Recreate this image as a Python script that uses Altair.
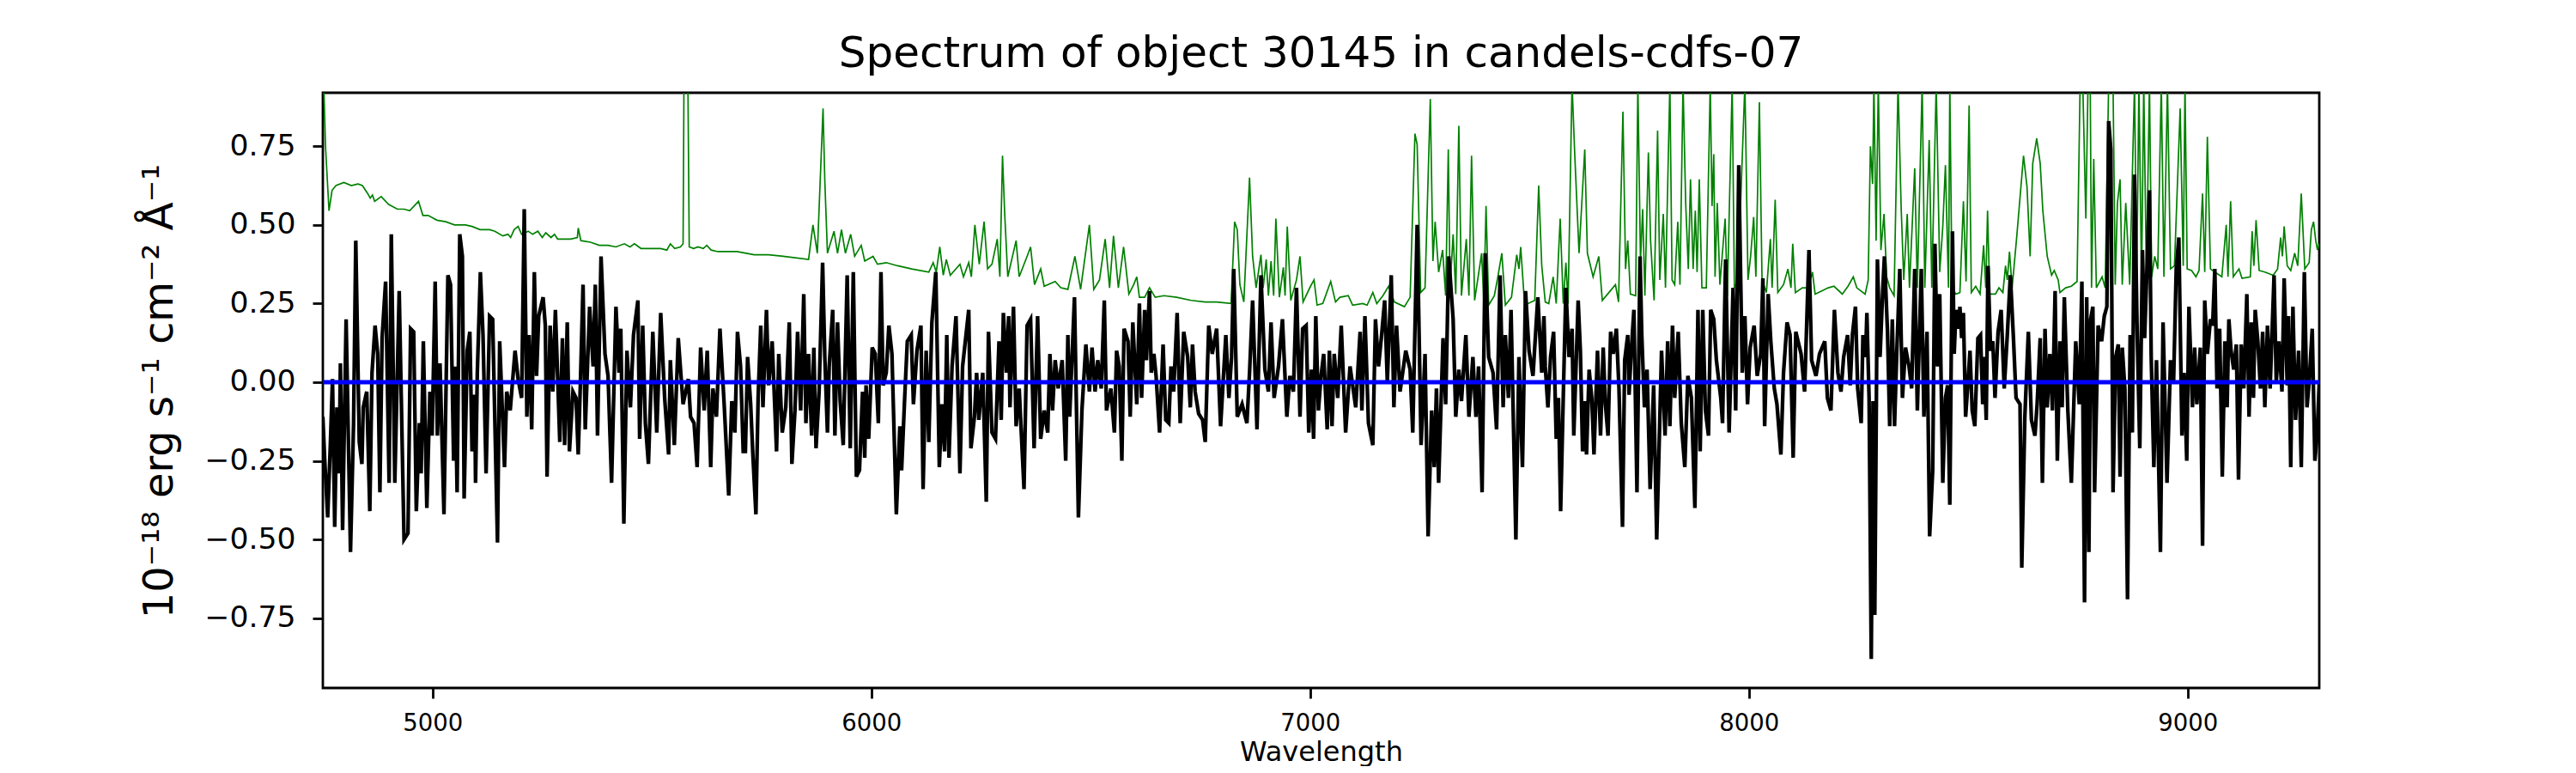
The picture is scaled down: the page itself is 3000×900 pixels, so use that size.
import altair as alt
import pandas as pd

# ---------------- data ----------------
flux_wave = [
    4750, 4754, 4761, 4767, 4772, 4777, 4782, 4787, 4790, 4795, 4803, 4813, 4820, 4825, 4833, 4839, 4842, 4850, 4857, 4862,
    4869, 4875, 4880, 4885, 4893, 4901, 4906, 4914, 4924, 4935, 4944, 4950, 4957, 4963, 4970, 4974, 4979, 4987, 4994, 4999,
    5006, 5011, 5017, 5026, 5035, 5041, 5048, 5051, 5056, 5062, 5068, 5072, 5079, 5085, 5090, 5096, 5098, 5102, 5109, 5115,
    5122, 5130, 5137, 5148, 5153, 5164, 5169, 5177, 5188, 5195, 5203, 5209, 5215, 5220, 5226, 5232, 5237, 5242, 5252, 5257,
    5261, 5268, 5274, 5280, 5290, 5296, 5301, 5307, 5312, 5320, 5327, 5332, 5337, 5343, 5348, 5358, 5366, 5371, 5376, 5384,
    5393, 5400, 5408, 5418, 5425, 5429, 5436, 5443, 5451, 5458, 5468, 5472, 5479, 5485, 5492, 5502, 5511, 5520, 5529, 5538,
    5542, 5551, 5560, 5571, 5583, 5588, 5596, 5603, 5611, 5619, 5626, 5634, 5639, 5647, 5655, 5665, 5675,
    5682, 5689, 5695, 5702, 5708, 5713, 5718, 5725, 5730, 5737, 5742, 5748, 5753, 5761, 5766, 5774, 5784, 5789, 5797, 5805,
    5813, 5819, 5826, 5832, 5839, 5846, 5851, 5857, 5864, 5869, 5874, 5881, 5889, 5894, 5900, 5904, 5912, 5917, 5923, 5929,
    5936, 5945, 5952, 5959, 5966, 5973, 5980, 5985, 5988, 5994, 6002, 6009, 6016, 6022, 6027, 6034, 6040, 6047, 6057, 6065,
    6069, 6076, 6082, 6091, 6096, 6104, 6113, 6118, 6125, 6131, 6138, 6147, 6155, 6161, 6167, 6172, 6177, 6184, 6193, 6202,
    6208, 6222, 6227, 6235, 6240, 6245, 6254, 6262, 6267, 6275, 6283, 6291, 6296, 6301, 6308, 6313, 6316, 6324, 6330, 6337,
    6348, 6355, 6363, 6371, 6379, 6386, 6394, 6402, 6407, 6413, 6419, 6426, 6435, 6443, 6448, 6452, 6463, 6472, 6480, 6489,
    6497, 6503, 6510, 6516, 6524, 6531, 6536, 6546, 6554, 6559, 6565, 6571, 6576, 6585, 6590, 6596, 6605,
    6611, 6616, 6623, 6627, 6634, 6638, 6644, 6649, 6657, 6665, 6671, 6678, 6683, 6689, 6697, 6704, 6712, 6721, 6727, 6732,
    6738, 6746, 6755, 6761, 6769, 6777, 6787, 6796, 6808, 6815, 6821, 6826, 6834, 6845, 6856, 6862, 6869, 6879, 6888, 6897,
    6905, 6911, 6918, 6928, 6937, 6947, 6954, 6962, 6969, 6977, 6983, 6991, 6997, 7003, 7008, 7013, 7019, 7025, 7031, 7039,
    7044, 7050, 7055, 7063, 7071, 7081, 7091, 7104, 7114, 7118, 7125, 7133, 7143, 7149, 7156, 7163, 7170, 7176, 7185, 7191,
    7197, 7205, 7218, 7228, 7234, 7244, 7253, 7262, 7269, 7277, 7283, 7288, 7293, 7303, 7309, 7316, 7326, 7332, 7339, 7345,
    7355, 7362, 7371, 7378, 7384, 7392, 7399, 7407, 7417, 7425, 7433, 7440, 7445, 7452, 7458, 7469, 7476, 7484, 7491, 7499,
    7508, 7519, 7528,
    7533, 7536, 7542, 7548, 7555, 7561, 7566, 7571, 7577, 7583, 7590, 7597, 7601, 7611, 7616, 7621, 7626, 7630, 7636, 7642,
    7647, 7655, 7662, 7668, 7673, 7679, 7685, 7691, 7698, 7704, 7712, 7717, 7724, 7727, 7732, 7738, 7745, 7752, 7756, 7762,
    7768, 7775, 7783, 7790, 7801, 7809, 7815, 7820, 7826, 7831, 7839, 7846, 7854, 7861, 7869, 7877, 7884, 7889, 7895, 7901,
    7908, 7913, 7920, 7926, 7936, 7940, 7947, 7955, 7964, 7970, 7977, 7985, 7991, 7997, 8003, 8012, 8019, 8027, 8032, 8036,
    8044, 8050, 8058, 8064, 8073, 8079, 8087, 8094, 8101, 8107, 8119, 8127, 8137, 8143, 8153, 8161, 8173, 8179, 8187, 8195,
    8203, 8210, 8216, 8225, 8231, 8236, 8243, 8248, 8256, 8260, 8266, 8269, 8274, 8279, 8283, 8287, 8293, 8299, 8305, 8309,
    8316, 8321, 8327, 8332, 8337, 8344, 8350, 8357, 8365, 8371, 8378, 8384, 8393, 8399, 8406, 8412, 8419, 8424, 8430, 8435,
    8442, 8448, 8453, 8458, 8464,
    8468, 8472, 8478, 8481, 8485, 8489, 8494, 8498, 8504, 8509, 8515, 8522, 8528, 8533, 8536, 8541, 8545, 8551, 8556, 8561,
    8568, 8575, 8582, 8589, 8596, 8603, 8609, 8618, 8622, 8629, 8637, 8644, 8652, 8657, 8664, 8669, 8675, 8680, 8686, 8692,
    8698, 8703, 8709, 8714, 8719, 8727, 8735, 8745, 8753, 8759, 8765, 8770, 8775, 8779, 8784, 8788, 8796, 8804, 8810, 8816,
    8820, 8825, 8830, 8836, 8842, 8846, 8851, 8857, 8863, 8869, 8874, 8879, 8885, 8891, 8897, 8902, 8908, 8913, 8917, 8923,
    8929, 8938, 8944, 8953, 8961, 8968, 8974, 8980, 8987, 8992, 8998, 9003, 9011, 9016, 9021, 9029, 9034, 9039, 9045, 9052,
    9057, 9062, 9067, 9073, 9079, 9085, 9090, 9094, 9099, 9105, 9111, 9116, 9122, 9128, 9135, 9140, 9145, 9150, 9154, 9160,
    9166, 9171, 9176, 9182, 9188, 9197, 9202, 9208, 9215, 9220, 9227, 9230, 9235, 9240, 9246, 9253, 9259, 9266, 9272, 9277,
    9284, 9290, 9295, 9300,
]
flux = [
    -0.11, -0.24, -0.43, -0.20, 0.01, -0.46, -0.08, -0.29, 0.06, -0.47, 0.20, -0.54, -0.13, 0.45, -0.19, -0.26, -0.08, -0.03, -0.41, 0.03,
    0.18, 0.09, -0.35, 0.14, 0.32, -0.32, 0.47, -0.32, 0.29, -0.50, -0.48, 0.17, 0.16, -0.41, -0.13, -0.29, 0.13, -0.40, -0.03, -0.17,
    0.32, -0.17, 0.06, -0.42, 0.34, 0.31, -0.25, 0.05, -0.35, 0.47, 0.40, -0.37, 0.10, 0.16, -0.22, -0.04, -0.32, 0.03, 0.35, 0.15,
    -0.29, 0.21, 0.20, -0.51, 0.13, -0.27, -0.03, -0.09, 0.10, 0.01, -0.05, 0.55, -0.11, 0.15, -0.15, 0.35, 0.02, 0.21, 0.27, 0.18,
    -0.30, 0.18, -0.03, 0.23, -0.19, 0.14, -0.20, 0.19, -0.22, -0.03, -0.05, -0.23, 0.00, 0.31, -0.15, 0.24, 0.05, 0.31, -0.17, 0.40,
    0.09, 0.02, -0.32, 0.24, 0.03, 0.17, -0.45, 0.10, -0.08, 0.15, 0.26, -0.18, 0.18, -0.13, -0.26, 0.16, -0.16, 0.22, -0.05, -0.23,
    0.07, -0.20, 0.14, -0.07, 0.01, -0.11, -0.13, -0.27, 0.11, -0.09, 0.10, -0.27, -0.02, -0.11, 0.17, -0.08, -0.36,
    -0.06, -0.16, 0.16, 0.05, -0.22, -0.22, 0.08, -0.07, -0.23, -0.42, -0.05, 0.18, -0.08, 0.23, -0.01, 0.13, -0.22, 0.09, -0.16, -0.08,
    0.19, -0.26, -0.09, 0.16, -0.09, 0.28, -0.13, 0.09, -0.17, 0.11, -0.21, -0.03, 0.38, 0.08, -0.16, 0.05, 0.23, -0.17, 0.19, -0.06,
    -0.20, 0.34, -0.21, 0.35, -0.30, -0.28, -0.03, -0.24, -0.01, -0.18, 0.11, 0.09, -0.13, 0.35, -0.01, 0.03, 0.18, 0.09, -0.42, -0.14,
    -0.28, -0.05, 0.13, 0.15, -0.07, 0.10, 0.18, -0.34, 0.10, -0.19, 0.19, 0.35, -0.27, -0.07, -0.22, 0.15, -0.24, 0.05, 0.21, -0.29,
    0.05, 0.23, -0.21, -0.11, 0.03, -0.12, 0.03, -0.38, 0.16, -0.16, -0.18, 0.13, -0.12, 0.22, 0.03, 0.21, -0.08, 0.24, -0.14, -0.02,
    -0.34, 0.18, 0.20, -0.21, 0.21, -0.18, -0.09, -0.16, 0.09, -0.09, 0.07, -0.02, 0.07, -0.25, 0.15, -0.11, 0.27, -0.43, -0.09, 0.12,
    -0.03, 0.11, -0.03, 0.07, -0.02, 0.26, -0.09, -0.02, -0.16, 0.10, 0.05, -0.25, 0.17, 0.13, -0.11, 0.19, -0.07,
    0.25, -0.05, 0.23, 0.07, 0.29, 0.03, 0.09, 0.02, -0.16, 0.12, -0.12, -0.13, 0.05, -0.03, 0.22, -0.13, 0.16, 0.08, -0.08, 0.12,
    -0.03, -0.10, -0.12, -0.19, 0.18, 0.09, 0.17, -0.14, 0.15, -0.05, 0.08, 0.36, -0.11, -0.07, -0.13, 0.03, 0.26, -0.15, 0.34, 0.04,
    -0.03, 0.19, -0.05, 0.05, 0.20, -0.11, 0.02, -0.03, 0.30, -0.11, 0.17, 0.18, -0.16, 0.04, -0.18, 0.21, -0.09, 0.02, 0.09, -0.15,
    0.10, -0.14, 0.09, -0.05, 0.18, -0.16, 0.05, -0.08, 0.16, -0.09, 0.21, -0.13, -0.20, 0.20, 0.05, 0.15, 0.26, 0.00, 0.34, -0.08,
    0.18, -0.03, 0.10, 0.04, -0.16, 0.50, -0.20, 0.09, -0.49, -0.09, -0.27, -0.02, -0.32, 0.14, -0.07, 0.40, 0.20, -0.11, 0.04, -0.06,
    0.15, -0.11, 0.08, -0.11, 0.05, -0.35, 0.41, 0.08, 0.03, -0.15, 0.34, -0.08, 0.15, -0.05, 0.23, -0.50, 0.08, -0.27, 0.29, 0.10,
    0.02, 0.27, 0.03,
    0.21, 0.05, -0.08, 0.08, 0.16, -0.18, -0.05, -0.41, -0.05, 0.30, 0.08, 0.17, -0.17, 0.26, 0.10, -0.22, -0.06, -0.23, 0.04, -0.05,
    -0.23, 0.10, -0.17, 0.11, -0.07, -0.17, 0.16, 0.09, 0.17, -0.02, -0.46, 0.07, 0.15, -0.04, 0.10, 0.23, -0.35, 0.40, 0.15, -0.08,
    0.04, -0.34, -0.01, -0.50, 0.10, -0.17, 0.13, -0.14, 0.18, -0.05, 0.16, -0.13, -0.27, 0.02, -0.05, -0.40, 0.23, -0.22, 0.23, -0.09,
    -0.17, 0.23, 0.20, 0.07, -0.05, -0.13, 0.39, -0.16, 0.30, -0.09, 0.69, 0.03, 0.21, -0.07, 0.11, 0.18, 0.02, 0.09, 0.33, -0.14,
    0.28, 0.13, -0.02, -0.07, -0.23, 0.03, 0.19, 0.15, -0.24, 0.16, 0.09, -0.03, 0.42, 0.07, 0.02, 0.09, 0.13, -0.05, -0.09, 0.23,
    0.03, -0.03, 0.08, 0.15, -0.01, 0.15, 0.24, -0.02, -0.13, 0.15, 0.08, 0.22, -0.05, -0.88, -0.06, -0.74, 0.39, 0.08, 0.29, 0.40,
    0.16, -0.14, 0.20, -0.14, 0.09, 0.36, -0.05, 0.11, 0.05, -0.02, 0.36, -0.09, 0.36, -0.11, 0.16, -0.49, -0.28, 0.44, 0.05, 0.28,
    -0.32, -0.05, -0.01, -0.39, 0.48,
    0.09, 0.23, 0.17, 0.24, 0.14, 0.22, -0.11, -0.03, 0.10, -0.09, -0.14, 0.14, 0.15, -0.07, 0.08, -0.12, 0.37, 0.10, 0.13, -0.05,
    0.16, 0.23, -0.02, 0.15, 0.34, 0.14, -0.05, -0.07, -0.59, -0.11, 0.16, -0.12, -0.17, -0.07, 0.14, -0.32, 0.17, -0.08, 0.09, -0.09,
    0.29, -0.25, 0.13, -0.08, 0.27, -0.09, -0.32, 0.13, -0.07, 0.32, -0.70, 0.27, -0.54, 0.20, 0.24, -0.35, 0.18, 0.13, 0.21, 0.24,
    0.83, 0.74, -0.35, 0.08, 0.12, -0.30, 0.11, -0.02, -0.69, 0.15, -0.16, 0.66, 0.16, -0.21, 0.42, 0.14, 0.39, 0.61, 0.08, -0.27,
    0.07, -0.54, 0.19, -0.32, 0.07, 0.00, 0.36, 0.46, -0.17, 0.03, -0.25, 0.24, -0.08, 0.11, -0.07, 0.11, -0.52, 0.26, 0.09, 0.20,
    0.18, 0.36, -0.02, 0.17, -0.30, 0.13, -0.08, 0.20, 0.10, 0.04, 0.12, -0.31, 0.12, -0.02, 0.28, -0.11, 0.19, -0.05, 0.23, 0.13,
    -0.02, 0.16, -0.08, 0.18, -0.02, 0.34, 0.00, 0.13, -0.03, 0.33, -0.01, 0.21, -0.27, 0.24, -0.12, 0.10, -0.27, 0.35, -0.08, 0.00,
    0.17, -0.25, -0.17, 0.00,
]

noise_wave = [
    4750, 4752, 4756, 4764, 4771, 4780, 4798, 4815, 4830, 4840, 4852, 4858, 4863, 4868, 4883, 4900, 4920, 4935, 4948, 4968,
    4978, 4990, 5010, 5030, 5050, 5075, 5090, 5108, 5130, 5142, 5160, 5172, 5178, 5186, 5195, 5203, 5218, 5228, 5240, 5250,
    5258, 5270, 5278, 5285, 5300, 5315, 5330, 5332, 5338, 5360, 5380, 5400, 5418, 5437, 5450, 5460, 5475, 5500, 5520, 5534,
    5542, 5552, 5565, 5571, 5573, 5582, 5585, 5595, 5605, 5617, 5625, 5635, 5650, 5666,
    5694, 5733, 5766, 5799, 5857, 5867, 5877, 5890, 5894, 5900, 5915, 5923, 5932, 5941, 5953, 5962, 5977, 5985, 6004, 6014,
    6034, 6060, 6092, 6131, 6141, 6148, 6156, 6164, 6171, 6180, 6202, 6210, 6222, 6228, 6236, 6246, 6257, 6265, 6275, 6287,
    6293, 6299, 6304, 6311, 6330, 6337, 6355, 6363, 6372, 6386, 6394, 6419, 6432, 6448, 6464, 6477, 6497, 6507, 6520, 6533,
    6543, 6552, 6563, 6575, 6587, 6598,
    6605, 6611, 6623, 6634, 6647, 6667, 6696, 6729, 6761, 6787, 6820, 6828, 6834, 6840, 6849, 6862, 6869, 6877, 6888, 6893,
    6900, 6905, 6911, 6917, 6922, 6930, 6939, 6943, 6948, 6956, 6969, 6977, 6984, 7001, 7009, 7016, 7029, 7047, 7058, 7068,
    7087, 7097, 7120, 7130, 7143, 7152, 7166, 7179, 7192, 7215, 7228, 7239, 7244, 7252, 7262, 7274, 7280, 7285, 7293, 7302,
    7309, 7315, 7319, 7326, 7332, 7339, 7345, 7356, 7362, 7368, 7375, 7391, 7396, 7401, 7407, 7420, 7428, 7437, 7445, 7459,
    7471, 7476, 7480, 7489, 7512, 7521,
    7528, 7536, 7544, 7554, 7561, 7570, 7577, 7583, 7588, 7597, 7603, 7613, 7626, 7632, 7645, 7652, 7658, 7666, 7681, 7696,
    7703, 7713, 7719, 7724, 7730, 7742, 7747, 7753, 7758, 7763, 7771, 7776, 7784, 7792, 7797, 7805, 7810, 7820, 7825, 7831,
    7838, 7843, 7850, 7856, 7862, 7867, 7873, 7878, 7882, 7887, 7893, 7903, 7912, 7916, 7920, 7923, 7928, 7934, 7946, 7951,
    7962, 7967, 7975, 7991, 7998, 8004, 8011, 8016, 8024, 8030, 8040, 8049, 8053, 8060, 8066, 8079, 8089, 8096, 8100, 8106,
    8122, 8135, 8145, 8151, 8181, 8194, 8213, 8226, 8238, 8246, 8265, 8272, 8277, 8282, 8285, 8290, 8295, 8301, 8308, 8314,
    8321, 8331, 8340, 8347, 8353, 8361, 8366, 8378, 8384, 8395, 8401, 8411, 8417, 8427, 8435, 8442, 8448, 8455,
    8458, 8463, 8472, 8481, 8489, 8495, 8502, 8507, 8517, 8527, 8535, 8540, 8544, 8549, 8562, 8570, 8579, 8585, 8589, 8594,
    8600, 8611, 8626, 8634, 8641, 8647, 8656, 8664, 8670, 8680, 8690, 8696, 8705, 8709, 8722, 8735, 8748, 8755, 8761, 8768,
    8773, 8778, 8781, 8786, 8792, 8805, 8812, 8820, 8825, 8830, 8835, 8840, 8846, 8851, 8859, 8868, 8879, 8884, 8889, 8895,
    8900, 8906, 8913, 8918, 8925, 8932, 8940, 8946, 8954, 8961, 8970, 8983, 8990, 8994, 8999, 9009, 9019, 9026, 9034, 9039,
    9045, 9052, 9062, 9078, 9088, 9092, 9098, 9104, 9117, 9124, 9143, 9147, 9151, 9156, 9163, 9176, 9195, 9205, 9212, 9216,
    9220, 9227, 9235, 9244, 9251, 9259, 9267, 9277, 9282, 9287, 9292, 9296, 9300,
]
noise = [
    0.95, 0.95, 0.75, 0.545, 0.61, 0.625, 0.635, 0.625, 0.63, 0.625, 0.60, 0.585, 0.595, 0.575, 0.59, 0.565, 0.55, 0.55, 0.545, 0.575,
    0.53, 0.53, 0.515, 0.51, 0.50, 0.50, 0.495, 0.485, 0.485, 0.48, 0.465, 0.47, 0.46, 0.485, 0.495, 0.47, 0.48, 0.47, 0.48, 0.46,
    0.475, 0.46, 0.47, 0.455, 0.455, 0.455, 0.46, 0.49, 0.45, 0.445, 0.435, 0.435, 0.43, 0.44, 0.43, 0.44, 0.425, 0.425, 0.425, 0.42,
    0.44, 0.425, 0.43, 0.44, 0.95, 0.95, 0.43, 0.425, 0.43, 0.425, 0.435, 0.42, 0.415, 0.415,
    0.415, 0.405, 0.405, 0.40, 0.39, 0.50, 0.41, 0.87, 0.64, 0.41, 0.48, 0.41, 0.485, 0.41, 0.47, 0.40, 0.435, 0.385, 0.40, 0.375,
    0.38, 0.37, 0.36, 0.35, 0.38, 0.35, 0.43, 0.34, 0.39, 0.34, 0.375, 0.335, 0.38, 0.335, 0.50, 0.375, 0.51, 0.36, 0.375, 0.455,
    0.335, 0.72, 0.535, 0.335, 0.45, 0.335, 0.40, 0.43, 0.31, 0.36, 0.305, 0.32, 0.30, 0.295, 0.40, 0.295, 0.50, 0.295, 0.325, 0.455,
    0.30, 0.465, 0.30, 0.43, 0.28, 0.31,
    0.335, 0.27, 0.27, 0.30, 0.27, 0.275, 0.27, 0.26, 0.255, 0.255, 0.25, 0.51, 0.485, 0.31, 0.255, 0.65, 0.40, 0.30, 0.405, 0.30,
    0.39, 0.275, 0.385, 0.275, 0.52, 0.27, 0.365, 0.275, 0.495, 0.26, 0.325, 0.40, 0.255, 0.305, 0.325, 0.245, 0.25, 0.32, 0.255, 0.27,
    0.275, 0.245, 0.25, 0.245, 0.285, 0.25, 0.275, 0.305, 0.255, 0.24, 0.27, 0.79, 0.755, 0.285, 0.30, 0.90, 0.385, 0.51, 0.35, 0.42,
    0.275, 0.74, 0.30, 0.47, 0.28, 0.815, 0.275, 0.455, 0.275, 0.72, 0.26, 0.41, 0.25, 0.56, 0.245, 0.275, 0.335, 0.41, 0.245, 0.27,
    0.405, 0.36, 0.43, 0.245, 0.26, 0.625,
    0.37, 0.255, 0.25, 0.335, 0.25, 0.52, 0.25, 0.38, 0.25, 0.95, 0.73, 0.41, 0.74, 0.41, 0.335, 0.37, 0.40, 0.26, 0.285, 0.31,
    0.255, 0.86, 0.36, 0.45, 0.28, 0.275, 0.95, 0.385, 0.55, 0.275, 0.73, 0.45, 0.26, 0.80, 0.325, 0.535, 0.30, 0.95, 0.325, 0.31,
    0.51, 0.31, 0.95, 0.57, 0.36, 0.645, 0.36, 0.545, 0.35, 0.645, 0.30, 0.30, 0.95, 0.56, 0.725, 0.335, 0.57, 0.31, 0.52, 0.275,
    0.95, 0.30, 0.325, 0.95, 0.325, 0.40, 0.525, 0.335, 0.89, 0.325, 0.285, 0.455, 0.30, 0.58, 0.285, 0.31, 0.36, 0.30, 0.44, 0.285,
    0.30, 0.30, 0.35, 0.28, 0.30, 0.305, 0.28, 0.305, 0.335, 0.30, 0.28, 0.325, 0.75, 0.63, 0.95, 0.45, 0.95, 0.42, 0.535, 0.335,
    0.30, 0.275, 0.95, 0.56, 0.325, 0.535, 0.30, 0.68, 0.30, 0.95, 0.30, 0.77, 0.30, 0.95, 0.35, 0.495, 0.69, 0.30,
    0.95, 0.30, 0.28, 0.285, 0.575, 0.32, 0.88, 0.285, 0.305, 0.28, 0.435, 0.30, 0.545, 0.28, 0.28, 0.30, 0.285, 0.37, 0.325, 0.415,
    0.30, 0.47, 0.72, 0.62, 0.40, 0.695, 0.775, 0.695, 0.545, 0.40, 0.34, 0.355, 0.325, 0.285, 0.30, 0.305, 0.32, 0.95, 0.95, 0.52,
    0.95, 0.95, 0.30, 0.71, 0.30, 0.335, 0.30, 0.95, 0.95, 0.95, 0.31, 0.57, 0.645, 0.31, 0.57, 0.31, 0.95, 0.325, 0.95, 0.32,
    0.95, 0.335, 0.95, 0.335, 0.40, 0.36, 0.95, 0.335, 0.95, 0.36, 0.37, 0.87, 0.37, 0.95, 0.36, 0.355, 0.335, 0.355, 0.60, 0.35,
    0.78, 0.36, 0.35, 0.335, 0.50, 0.335, 0.575, 0.335, 0.36, 0.33, 0.335, 0.48, 0.37, 0.515, 0.355, 0.35, 0.34, 0.36, 0.46, 0.40,
    0.495, 0.37, 0.355, 0.41, 0.37, 0.60, 0.36, 0.38, 0.485, 0.51, 0.45, 0.42, 0.44,
]

model_wave = [4750, 9300]
model = [0.0, 0.0]

title_text = "Spectrum of object 30145 in candels-cdfs-07"
x_title = "Wavelength"
y_title = "10\u207b\u00b9\u2078 erg s\u207b\u00b9 cm\u207b\u00b2 \u00c5\u207b\u00b9"
x_ticks = [5000, 6000, 7000, 8000, 9000]
y_ticks = [-0.75, -0.5, -0.25, 0.0, 0.25, 0.5, 0.75]

# ---------------- chart ----------------
FONT = "DejaVu Sans"
flux_df = pd.DataFrame({"wave": flux_wave, "flux": flux})
noise_df = pd.DataFrame({"wave": noise_wave, "flux": noise})
model_df = pd.DataFrame({"wave": model_wave, "flux": model})

xscale = alt.Scale(domain=[4750, 9300], nice=False, zero=False)
yscale = alt.Scale(domain=[-0.972, 0.92], nice=False, zero=False)

xenc = alt.X("wave:Q", scale=xscale,
             axis=alt.Axis(values=x_ticks, format="d", title=x_title, grid=False,
                           labelFont=FONT, titleFont=FONT, titleFontWeight="normal",
                           labelFontSize=27.5, titleFontSize=32,
                           labelPadding=15, titleY=84, titleBaseline="alphabetic"))
yenc = alt.Y("flux:Q", scale=yscale,
             axis=alt.Axis(values=y_ticks, format=".2f", title=y_title, grid=False,
                           labelFont=FONT, titleFont=FONT, titleFontWeight="normal",
                           labelFontSize=34.6, titleFontSize=48,
                           labelPadding=20, titleX=-166, titleY=347,
                           titleBaseline="bottom", titleAngle=270))

noise_line = alt.Chart(noise_df).mark_line(color="#008000", strokeWidth=1.7, clip=True).encode(x=xenc, y=yenc)
flux_line = alt.Chart(flux_df).mark_line(color="#000000", strokeWidth=4.3, clip=True).encode(x=xenc, y=yenc)
model_line = alt.Chart(model_df).mark_line(color="#0000ff", strokeWidth=5, clip=True).encode(x=xenc, y=yenc)

chart = alt.layer(noise_line, flux_line, model_line).properties(
    width=2325,
    height=693,
    autosize=alt.AutoSizeParams(type="none"),
    padding={"left": 368, "top": 100, "right": 291, "bottom": 91},
    background="white",
    title=alt.TitleParams(text=title_text, fontSize=50, font=FONT, fontWeight="normal",
                          anchor="middle", baseline="alphabetic", offset=14, dy=34,
                          color="black", frame="group"),
).configure_view(
    stroke="black", strokeWidth=2.8
).configure_axis(
    grid=False, domain=False, tickColor="black", tickWidth=2.8, tickSize=12,
    labelFont=FONT, titleFont=FONT, labelColor="black", titleColor="black",
    titleFontWeight="normal",
)

chart.save("out.html", embed_options={"renderer": "svg", "actions": False})
